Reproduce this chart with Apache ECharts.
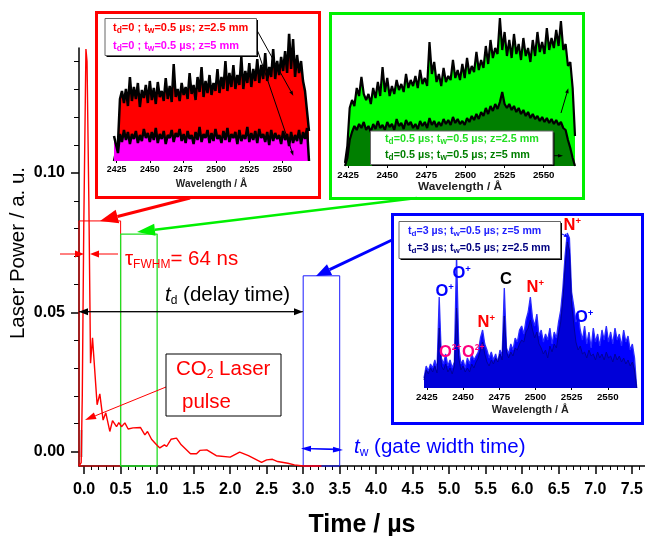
<!DOCTYPE html>
<html><head><meta charset="utf-8">
<style>html,body{margin:0;padding:0;background:#fff}#c{width:645px;height:536px}</style>
<script src="https://cdn.jsdelivr.net/npm/echarts@6/dist/echarts.min.js"></script>
</head><body><div id="c"></div>
<script>
// ---------- main chart data ----------
const pulseTime = [-0.07,-0.05,-0.04,-0.025,-0.005,0.025,0.04,0.065,0.088,0.115,0.178,0.215,0.26,0.297,0.352,0.389,0.444,0.475,0.512,0.558,0.603,0.67,0.773,0.832,0.868,0.923,0.992,1.037,1.10,1.13,1.19,1.265,1.33,1.457,1.54,1.585,1.68,1.81,2.0,2.13,2.25,2.43,2.5,2.58,2.65,2.79,2.88,3.0,3.25];
const pulsePower = [-0.0052,-0.0045,-0.004,0.02,0.08,0.1445,0.14,0.09,0.0317,0.0408,0.0168,0.0207,0.0113,0.0139,0.0072,0.0111,0.0089,0.0104,0.0089,0.0103,0.0081,0.0085,0.0086,0.006,0.0072,0.0044,0.0024,0.0013,0.0024,0.0018,0.0044,0.0048,0.0024,-0.0008,-0.0008,0.0004,0.0006,-0.0015,-0.002,-0.0002,-0.0015,-0.0039,-0.003,-0.0028,-0.0036,-0.0042,-0.0048,-0.0052,-0.0052];
const xMajor = [0,0.5,1,1.5,2,2.5,3,3.5,4,4.5,5,5.5,6,6.5,7,7.5];
const xMinor = [0.1,0.2,0.3,0.4,0.6,0.7,0.8,0.9,1.1,1.2,1.3,1.4,1.6,1.7,1.8,1.9,2.1,2.2,2.3,2.4,2.6,2.7,2.8,2.9,3.1,3.2,3.3,3.4,3.6,3.7,3.8,3.9,4.1,4.2,4.3,4.4,4.6,4.7,4.8,4.9,5.1,5.2,5.3,5.4,5.6,5.7,5.8,5.9,6.1,6.2,6.3,6.4,6.6,6.7,6.8,6.9,7.1,7.2,7.3,7.4,7.6];
const yMajor = [0,0.05,0.1];
const yMinor = [0.01,0.02,0.03,0.04,0.06,0.07,0.08,0.09,0.11,0.12,0.13,0.14];
const redGate = [[-0.07,-0.0052],[-0.07,0.0828],[0.5,0.0828],[0.5,-0.0052],[-0.07,-0.0052]];
const greenGate = [[0.5,-0.0052],[0.5,0.0781],[1,0.0781],[1,-0.0052],[0.5,-0.0052]];
const blueGate = [[3,-0.0052],[3,0.0631],[3.5,0.0631],[3.5,-0.0052],[3,-0.0052]];

// ---------- inset data ----------
const wl = [2423,2424.5,2426,2427.5,2429,2430.5,2432,2433.5,2435,2436.5,2438,2439.5,2441,2442.5,2444,2445.5,2447,2448.5,2450,2451.5,2453,2454.5,2456,2457.5,2459,2460.5,2462,2463.5,2465,2466.5,2468,2469.5,2471,2472.5,2474,2475.5,2477,2478.5,2480,2481.5,2483,2484.5,2486,2487.5,2489,2490.5,2492,2493.5,2495,2496.5,2498,2499.5,2501,2502.5,2504,2505.5,2507,2508.5,2510,2511.5,2513,2514.5,2516,2517.5,2519,2520.5,2522,2523.5,2525,2526.5,2528,2529.5,2531,2532.5,2534,2535.5,2537,2538.5,2540,2541.5,2543,2544.5,2546,2547.5,2549,2550.5,2552,2553.5,2555,2556.5,2558,2559.5,2561,2562.5,2564,2565.5,2567,2568.5,2570];
const wlTicks = [2425,2450,2475,2500,2525,2550];
const redZ25 = [0,0,18,62,70,58,72,55,84,60, 74,62,78,54,71,63,76,58,80,61, 73,57,79,64,70,60,83,62,75,59, 97,64,72,60,78,66,74,62,88,67, 76,61,84,69,94,64,80,68,86,66, 78,70,92,68,84,72,100,70,88,74, 96,72,86,76,104,72,90,78,98,74, 92,80,102,78,96,82,108,80,94,84, 112,82,100,86,104,90,110,88,128,92, 122,84,106,88,100,80,70,50,30];
const magentaZ5 = [25,23,8,27,19,31,21,29,17,27, 22,30,18,26,20,32,23,28,19,29, 21,33,18,27,22,30,17,26,23,31, 19,28,24,32,20,27,18,30,22,26, 17,29,21,34,19,27,23,31,18,28, 20,32,22,26,18,30,21,33,19,27, 23,29,17,31,20,26,22,34,19,28, 21,30,18,32,23,27,19,29,16,31, 20,28,22,26,17,30,21,27,15,29, 18,26,20,31,17,29,22,33,0];
const greenZ25 = [3,20,58,66,60,78,70,89,72,66, 72,62,78,68,84,70,99,74,88,70, 80,72,86,76,82,74,92,78,86,80, 90,78,96,82,88,80,124,92,104,84, 92,80,98,84,90,86,106,88,96,86, 102,88,108,92,100,94,114,96,106,98, 120,102,126,108,118,112,148,116,134,110, 126,108,132,112,122,106,128,110,118,104, 126,110,134,114,124,112,138,116,128,118, 136,120,145,116,122,100,104,78,30];
const darkGreenZ5 = [0,8,26,34,40,36,42,38,44,36, 40,34,42,37,45,38,41,36,44,39, 42,36,47,40,43,37,46,41,44,38, 42,37,45,40,44,38,48,41,45,39, 44,40,47,42,46,41,49,43,47,42, 45,41,48,44,50,46,52,47,54,50, 58,52,60,55,62,57,64,74,62,58, 62,56,60,54,58,52,56,50,54,48, 52,47,50,45,49,44,48,43,47,42, 46,41,44,38,36,26,18,8,0];
const blueZ5 = [10,22,17,24,20,28,18,91,30,24, 34,22,28,20,26,133,42,24,28,20, 30,24,34,28,32,36,50,58,44,38, 30,36,28,34,26,38,32,100,40,34, 44,38,50,46,58,62,54,68,76,91, 70,62,74,52,58,46,54,48,60,44, 56,50,66,78,100,132,155,150,96,82, 66,74,58,48,62,44,56,40,60,46, 54,42,58,48,62,46,56,44,60,48, 54,42,58,46,52,38,44,30,0];
const navyZ25 = [8,18,14,20,16,22,15,60,22,18, 24,16,20,14,22,80,30,18,22,16, 20,16,24,20,26,30,38,46,34,26, 22,28,24,30,26,34,28,72,36,30, 36,32,40,38,44,48,46,56,60,68, 58,50,56,44,40,34,38,30,42,36, 44,40,54,66,88,120,146,138,84,64, 46,38,42,34,36,30,38,32,34,28, 36,30,34,28,36,30,32,26,34,28, 32,26,30,24,28,22,26,18,0];

const FF = '"Liberation Sans",Arial,sans-serif';
const zip = (a,b)=>a.map((v,i)=>[v,b[i]]);

function lineS(data,color,w,z){return {type:'line',data,xAxisIndex:0,yAxisIndex:0,showSymbol:false,symbol:'none',clip:false,animation:false,z:z||3,lineStyle:{color,width:w}};}
function areaS(vals,xi,line,fill,w,z){return {type:'line',data:zip(wl,vals),xAxisIndex:xi,yAxisIndex:xi,showSymbol:false,symbol:'none',animation:false,z:z,lineStyle:{color:line,width:w},areaStyle:{color:fill,opacity:1}};}

function insetX(grid,ticks,fs,ts,gap){return {type:'value',gridIndex:grid,min:2423,max:2570,position:'bottom',splitLine:{show:false},
  axisLine:{show:false},axisTick:{show:true,length:2,lineStyle:{color:'#000',width:1},customValues:ticks},
  axisLabel:{fontFamily:FF,fontWeight:'bold',fontSize:fs,color:'#000',margin:4,customValues:ticks,formatter:v=>String(v),hideOverlap:false},
  name:'Wavelength / Å',nameLocation:'middle',nameGap:gap,nameTextStyle:{fontFamily:FF,fontWeight:'bold',fontSize:ts,color:'#222'}};}
function insetY(grid,max){return {type:'value',gridIndex:grid,min:0,max:max,show:false,splitLine:{show:false}};}

// ---------- annotation helpers ----------
function arrow(x1,y1,x2,y2,color,w,hl,hw,z){
  const a=Math.atan2(y2-y1,x2-x1),c=Math.cos(a),s=Math.sin(a),bx=x2-hl*c,by=y2-hl*s;
  return [{type:'line',z:z||40,silent:true,shape:{x1,y1,x2:bx,y2:by},style:{stroke:color,lineWidth:w}},
   {type:'polygon',z:z||40,silent:true,shape:{points:[[x2,y2],[bx-hw*s,by+hw*c],[bx+hw*s,by-hw*c]]},style:{fill:color}}];
}
function txt(x,y,text,rich,z){return {type:'text',z:z||60,silent:true,style:{x,y,text,rich,verticalAlign:'middle',align:'left'}};}
function frame(x,y,w,h,color){return {type:'rect',z:-1,silent:true,shape:{x,y,width:w,height:h},style:{fill:'#fff',stroke:color,lineWidth:3}};}
function legendBox(x,y,w,h){return [
 {type:'rect',z:50,silent:true,shape:{x:x+1.5,y:y+1.5,width:w,height:h},style:{fill:'#000'}},
 {type:'rect',z:51,silent:true,shape:{x,y,width:w,height:h},style:{fill:'#fff',stroke:'#666',lineWidth:1}}];}
function legRich(color,fs){const b={fontFamily:FF,fontWeight:'bold',fontSize:fs,fill:color};
 return {a:b,s:Object.assign({},b,{fontSize:fs-2.5,padding:[6,0,0,0]})};}
function ionRich(color,sup){return {a:{fontFamily:FF,fontWeight:'bold',fontSize:16.5,fill:color},u:{fontFamily:FF,fontWeight:'bold',fontSize:sup||9.5,fill:color,padding:[0,0,8,0]}};}
const rg=(c,fs,sub)=>({a:{fontFamily:FF,fontSize:fs,fill:c},i:{fontFamily:FF,fontSize:fs,fontStyle:'italic',fill:c},s:{fontFamily:FF,fontSize:sub,fill:c,padding:[12,0,0,0]}});

const graphics = [
 frame(96.5,12.5,223,185,'#ff0000'),
 frame(330.5,13.5,253,185,'#00f000'),
 frame(392.5,214.5,250,209,'#0000ff'),
 {type:'rect',z:2,silent:true,shape:{x:80,y:430,width:3,height:27},style:{fill:'#cccccc'}},
 // legends
 ...legendBox(105,18.5,151.5,37),
 txt(113,27.5,'{a|t}{s|d}{a|=0 ; t}{s|w}{a|=0.5 µs; z=2.5 mm}',legRich('#ff0000',11)),
 txt(113,45.5,'{a|t}{s|d}{a|=0 ; t}{s|w}{a|=0.5 µs; z=5 mm}',legRich('#ff00ff',11)),
 ...legendBox(370.5,131,182.5,33.5),
 txt(385,139,'{a|t}{s|d}{a|=0.5 µs; t}{s|w}{a|=0.5 µs; z=2.5 mm}',legRich('#22dd22',10.8)),
 txt(385,155,'{a|t}{s|d}{a|=0.5 µs; t}{s|w}{a|=0.5 µs; z=5 mm}',legRich('#007f00',10.8)),
 ...legendBox(399,221.5,161.5,37),
 txt(408,231,'{a|t}{s|d}{a|=3 µs; t}{s|w}{a|=0.5 µs; z=5 mm}',legRich('#2222ff',10.6)),
 txt(408,248,'{a|t}{s|d}{a|=3 µs; t}{s|w}{a|=0.5 µs; z=2.5 mm}',legRich('#000080',10.6)),
 // ion labels
 txt(435.5,291,'{a|O}{u|+}',ionRich('#0000ff')),
 txt(452.5,273,'{a|O}{u|+}',ionRich('#0000ff')),
 txt(439,352,'{a|O}{u|2+}',ionRich('#ff0080',8.5)),
 txt(462,352,'{a|O}{u|2+}',ionRich('#ff0080',8.5)),
 txt(477.5,322,'{a|N}{u|+}',ionRich('#ff0000')),
 txt(500,279,'{a|C}',ionRich('#000000')),
 txt(526.5,287,'{a|N}{u|+}',ionRich('#ff0000')),
 txt(563.5,225,'{a|N}{u|+}',ionRich('#ff0000')),
 txt(575,317,'{a|O}{u|+}',ionRich('#0000ff')),
 // callouts in insets
 ...arrow(255.7,28,293.3,95.7,'#000',1,5,1.8,45),
 ...arrow(255.7,45,293.3,155.7,'#000',1,5,1.8,45),
 ...arrow(561,113,568.3,88.3,'#000',1,5,1.8,45),
 ...arrow(553,155.7,563,155.7,'#000',1,5,1.8,45),
 ...arrow(560,233,568,237,'#0000ff',1,4,1.8,45),
 // gate arrows
 ...arrow(190,198,100,221,'#ff0000',3,18,7),
 ...arrow(417,198,137,232,'#00f000',2.5,18,6),
 ...arrow(392,240,316,276,'#0000ff',3,15,6),
 // FWHM
 ...arrow(60,254,84,254,'#ff0000',1,9,3.5),
 ...arrow(118,254,90,254,'#ff0000',1,9,3.5),
 txt(125,259,'{a|τ}{s|FWHM}{a|= 64 ns}',rg('#ff0000',20.5,12)),
 // delay time
 ...arrow(303,311.7,79,311.7,'#000',1,9,3.5),
 ...arrow(79,311.7,303,311.7,'#000',1,9,3.5),
 txt(165,295,'{i|t}{s|d}{a| (delay time)}',rg('#000',20.5,12)),
 // CO2
 {type:'rect',z:41,silent:true,shape:{x:166,y:354,width:115,height:62},style:{fill:'#fff',stroke:'#000',lineWidth:1}},
 txt(176,369,'{a|CO}{s|2}{a| Laser}',rg('#ff0000',20.5,12),45),
 txt(182,402,'{a|pulse}',rg('#ff0000',20.5,12),45),
 ...arrow(166,387,85,420,'#ff0000',1,11,3.5),
 // gate width
 ...arrow(339,449,301,448.5,'#0000ff',1,10,3),
 ...arrow(303,448.5,343,450,'#0000ff',1,10,3),
 txt(354,447,'{i|t}{s|w}{a| (gate width time)}',rg('#0000ff',20.5,12))
];

const chart = echarts.init(document.getElementById('c'),null,{renderer:'canvas'});
chart.setOption({
 animation:false,backgroundColor:'#fff',
 grid:[
  {left:79,right:0,top:48,bottom:70,outerBoundsMode:'none'},
  {left:114,width:195,top:35,height:126,outerBoundsMode:'none'},
  {left:345,width:230,top:18,height:148,outerBoundsMode:'none'},
  {left:424,width:212.7,top:230,height:158,outerBoundsMode:'none'}
 ],
 xAxis:[
  {type:'value',gridIndex:0,min:-0.07,max:7.681,position:'bottom',splitLine:{show:false},
   axisLine:{onZero:false,lineStyle:{color:'#000',width:1.5}},
   axisTick:{length:8,lineStyle:{color:'#000',width:1.5},customValues:xMajor},
   axisLabel:{fontFamily:FF,fontWeight:'bold',fontSize:16,color:'#000',margin:16,customValues:xMajor,formatter:v=>v.toFixed(1),hideOverlap:false},
   name:'Time / µs',nameLocation:'middle',nameGap:46.5,nameTextStyle:{fontFamily:FF,fontWeight:'bold',fontSize:25,color:'#000'}},
  {type:'value',gridIndex:0,min:-0.07,max:7.681,position:'bottom',splitLine:{show:false},
   axisLine:{onZero:false,show:false},axisLabel:{show:false},
   axisTick:{length:4,lineStyle:{color:'#000',width:1},customValues:xMinor}},
  insetX(1,wlTicks,8.8,10,18),
  insetX(2,wlTicks,9.7,11.8,15),
  insetX(3,wlTicks,9.7,10.8,16.5)
 ],
 yAxis:[
  {type:'value',gridIndex:0,min:-0.0052,max:0.1449,position:'left',splitLine:{show:false},
   axisLine:{onZero:false,lineStyle:{color:'#000',width:1.5}},
   axisTick:{length:8,lineStyle:{color:'#000',width:1.5},customValues:yMajor},
   axisLabel:{fontFamily:FF,fontWeight:'bold',fontSize:16,color:'#000',margin:14,customValues:yMajor,formatter:v=>v.toFixed(2)},
   name:'Laser Power / a. u.',nameLocation:'middle',nameGap:50,nameMoveOverlap:false,nameTextStyle:{fontFamily:FF,fontSize:20.5,color:'#000',padding:[0,0,0,8]}},
  {type:'value',gridIndex:0,min:-0.0052,max:0.1449,position:'left',splitLine:{show:false},
   axisLine:{onZero:false,show:false},axisLabel:{show:false},
   axisTick:{length:5,lineStyle:{color:'#000',width:1},customValues:yMinor}},
  insetY(1,126),insetY(2,148),insetY(3,158)
 ],
 series:[
  lineS(redGate,'#ff0000',1,3),
  lineS(greenGate,'#22dd22',1.3,4),
  lineS(blueGate,'#1a1aff',1,4),
  lineS(zip(pulseTime,pulsePower),'#ff0000',1.4,5),
  areaS(redZ25,2,'#000','#ff0000',2.5,10),
  areaS(magentaZ5,2,'#000','#ff00ff',2.5,11),
  areaS(greenZ25,3,'#000','#00ff00',2.2,10),
  areaS(darkGreenZ5,3,'#000','#007f00',2.2,11),
  areaS(blueZ5,4,'#2a2aff','#0000ff',1.3,10),
  areaS(navyZ25,4,'#00009a','#0000d8',1,11)
 ],
 graphic:{elements:graphics}
});
</script></body></html>
